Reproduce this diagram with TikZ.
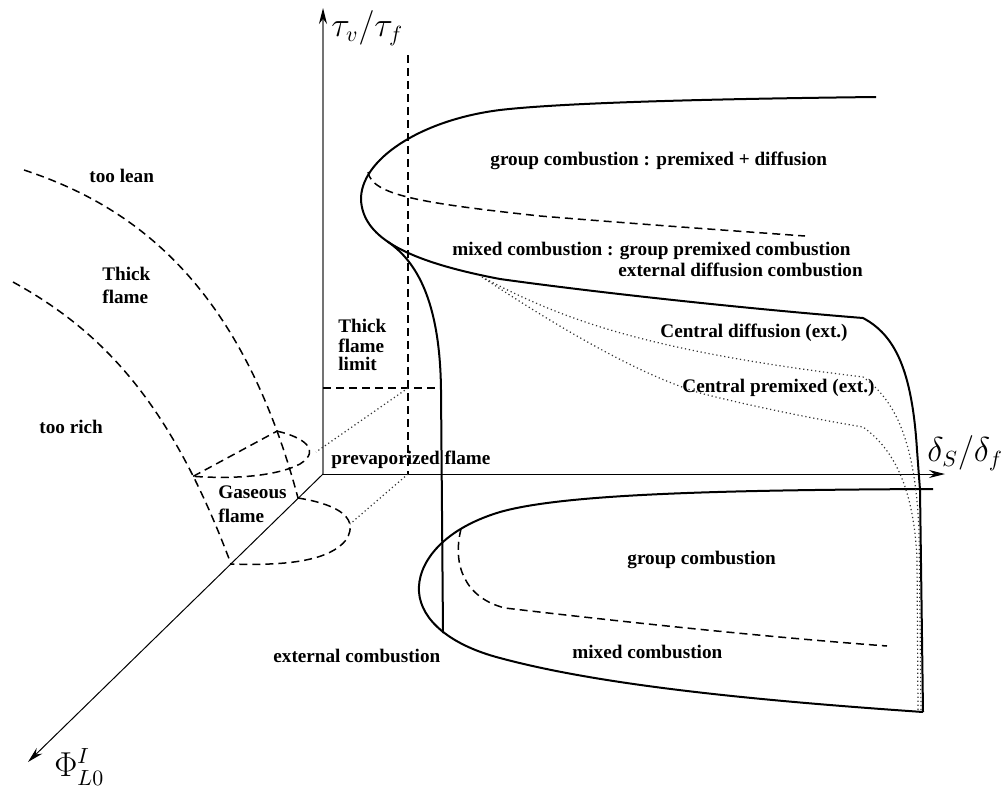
\documentclass[tikz,border=0pt]{standalone}
\usepackage{fontspec}
\setmainfont{Liberation Serif}
\usetikzlibrary{arrows.meta}
\tikzset{
  solidc/.style={line width=1pt, line join=round},
  dashc/.style={line width=0.75pt, dash pattern=on 4pt off 2.5pt},
  dotc/.style={line width=0.6pt, black!80, dash pattern=on 0.6pt off 1.4pt},
  axisl/.style={line width=0.5pt},
  lbl/.style={font=\fontsize{9.6}{11.5}\selectfont\bfseries, inner sep=0pt},
  mlbl/.style={font=\fontsize{16}{19}\selectfont, inner sep=0pt},
  tip/.style={-{Stealth[length=8pt,width=4pt,black]}}
}
\begin{document}
\begin{tikzpicture}[x=0.5pt,y=-0.5pt]
\useasboundingbox (0,0) rectangle (1001,788);
% axes
\coordinate (O) at (323,474);
\coordinate (Ytip) at (323,8);
\coordinate (Xtip) at (945,474);
\coordinate (Ztip) at (28,762);
\draw[axisl,tip,black!55,line width=0.7pt] (O) -- (Ytip);
\draw[axisl,tip] (O) -- (Xtip);
\draw[axisl,tip] (O) -- (Ztip);
\node[mlbl,anchor=west] (ylab) at (331,28) {$\tau_v/\tau_f$};
\node[mlbl,anchor=west] (xlab) at (927,453) {$\delta_S/\delta_f$};
\node[mlbl,anchor=west] (zlab) at (54,767) {$\Phi^I_{L0}$};

% thick flame limit dashed lines
\coordinate (L1) at (408,55);
\coordinate (L2) at (408,474);
\coordinate (H1) at (323,388);
\coordinate (H2) at (440,388);
\coordinate (Hc) at (408,388);
\draw[dashc] (L1) -- (L2);
\draw[dashc] (H1) -- (H2);
\coordinate (P1) at (316,452);
\coordinate (P2) at (350,524);
\draw[dotc] (Hc) -- (P1);
\draw[dotc] (L2) -- (P2);

% left dashed curves (lean / rich limits)
\draw[dashc] (24,170) .. controls (130,205) and (240,280) .. coordinate[pos=0.89] (Ac) (298,498);
\draw[dashc] (13,282) .. controls (100,330) and (170,400) .. coordinate[pos=0.8] (Bc) (231,564);
% gaseous flame surface
\draw[dashc] (Bc) -- (Ac);
\draw[dashc] (Ac) .. controls (303,437) and (322,450) .. (300,464) .. controls (275,477) and (230,479) .. (Bc);
\draw[dashc] (298,498) .. controls (330,503) and (362,515) .. (346,540) .. controls (330,560) and (290,566) .. (231,564);

% upper loop
\draw[solidc] (876,97) .. controls (700,99) and (560,103) .. (500,110)
  .. controls (420,120) and (360,160) .. (361,200)
  .. controls (363,235) and (400,260) .. coordinate[pos=0.45] (C2s) (500,279)
  .. controls (600,293) and (750,309) .. (863,318)
  .. controls (895,335) and (912,370) .. (917,450)
  -- (920,490) -- (923,712);
% inner vertical curve, branching off the upper loop
\draw[solidc] (C2s) .. controls (416,261) and (440,300) .. (441,390) -- (443,633);
% lower loop
\draw[solidc] (933,489) .. controls (700,490) and (560,495) .. (500,512)
  .. controls (440,530) and (417,565) .. (419,592)
  .. controls (421,620) and (450,645) .. (500,658)
  .. controls (600,685) and (750,700) .. (923,712);

% inner dashed curves
\draw[dashc] (368,172) .. controls (372,195) and (420,203) .. (540,216) .. controls (650,225) and (750,232) .. (805,236);
\draw[dashc] (461,529) .. controls (452,565) and (465,598) .. (505,608) .. controls (650,625) and (780,638) .. (887,646);

% dotted curves
\draw[dotc] (482,277) .. controls (560,318) and (640,350) .. (863,377)
  .. controls (895,400) and (915,440) .. (919,530) -- (921,710);
\draw[dotc] (485,279) .. controls (540,315) and (630,372) .. (700,393)
  .. controls (750,406) and (820,420) .. (863,427)
  .. controls (895,450) and (914,490) .. (917,560) -- (918,710);

% labels
\node[lbl,anchor=base west] (lean) at (89,182) {too lean};
\node[lbl,anchor=base west] (thick1) at (102,280) {Thick};
\node[lbl,anchor=base west] (thick2) at (102,303) {flame};
\node[lbl,anchor=base west] (rich) at (39,433) {too rich};
\node[lbl,anchor=base west] (tfl1) at (338,332) {Thick};
\node[lbl,anchor=base west] (tfl2) at (338,352) {flame};
\node[lbl,anchor=base west] (tfl3) at (338,370) {limit};
\node[lbl,anchor=base west] (gas1) at (218,498) {Gaseous};
\node[lbl,anchor=base west] (gas2) at (218,522) {flame};
\node[lbl,anchor=base west] (prev) at (331,464) {prevaporized flame};
\node[lbl,anchor=base west] (extc) at (273,662) {external combustion};
\node[lbl,anchor=base west] (gpd) at (490,165) {group combustion : premixed + diffusion};
\node[lbl,anchor=base west] (mix1) at (452,255) {mixed combustion : group premixed combustion};
\node[lbl,anchor=base west] (mix2) at (618,276) {external diffusion combustion};
\node[lbl,anchor=base west] (cdif) at (660,337) {Central diffusion (ext.)};
\node[lbl,anchor=base west] (cpre) at (682,392) {Central premixed (ext.)};
\node[lbl,anchor=base west] (grp) at (627,564) {group combustion};
\node[lbl,anchor=base west] (mixc) at (572,658) {mixed combustion};
\end{tikzpicture}
\end{document}
